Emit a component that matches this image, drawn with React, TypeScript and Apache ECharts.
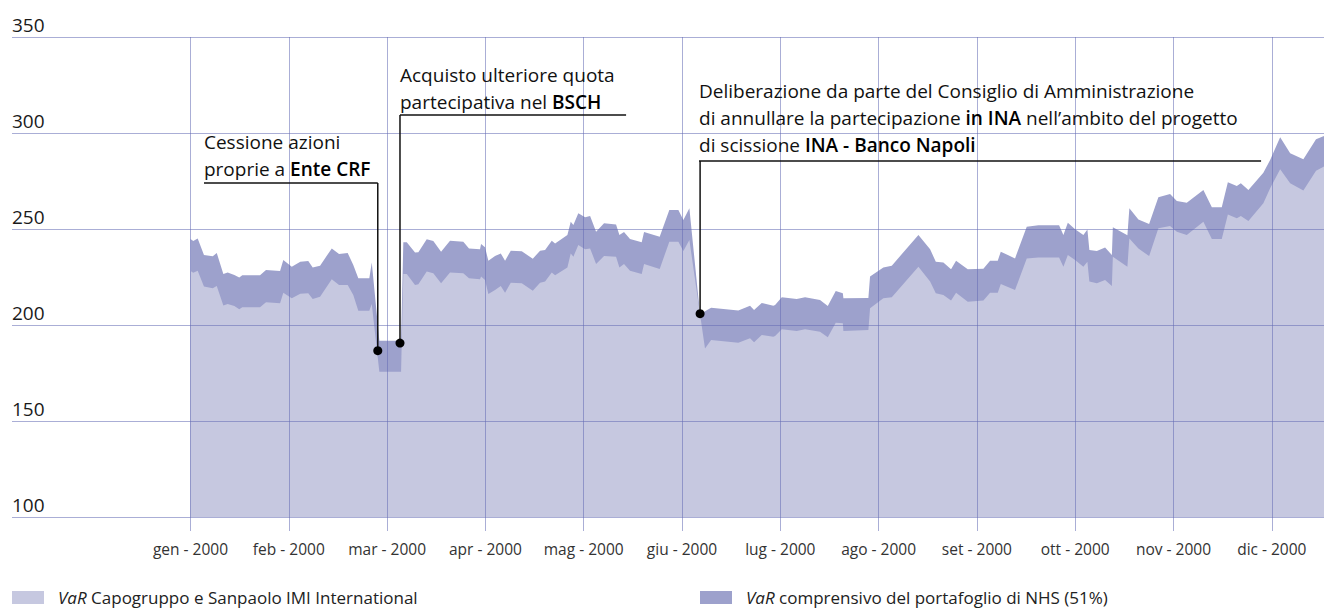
import React, { useEffect, useRef } from 'react';
import * as echarts from 'echarts';

// ---- data -------------------------------------------------------------
const MONTHS = ['gen', 'feb', 'mar', 'apr', 'mag', 'giu', 'lug', 'ago', 'set', 'ott', 'nov', 'dic'];
const YEAR = '2000';
const MONTH_IDX = MONTHS.map((_, i) => i);
const Y_MIN = 100;
const Y_MAX = 350;
const Y_STEP = 50;

// time in months from 1 Jan 2000 (0 = gen, 1 = feb, ...)
const X = [
  0, 0.028, 0.073, 0.137, 0.226, 0.267, 0.334, 0.378, 0.446, 0.496, 0.527, 0.707, 0.768, 0.911, 0.944,
  1.03, 1.117, 1.198, 1.243, 1.318, 1.437, 1.511, 1.599, 1.656, 1.707, 1.819, 1.844, 1.921, 2.142, 2.165,
  2.2, 2.284, 2.318, 2.403, 2.47, 2.549, 2.64, 2.775, 2.833, 2.945, 2.956, 2.996, 3.03, 3.098, 3.156,
  3.2, 3.258, 3.37, 3.482, 3.556, 3.607, 3.675, 3.709, 3.834, 3.868, 3.895, 3.945, 4.014, 4.065, 4.126,
  4.207, 4.329, 4.363, 4.41, 4.471, 4.59, 4.614, 4.773, 4.871, 4.963, 5.014, 5.075, 5.183, 5.234, 5.296,
  5.573, 5.692, 5.733, 5.811, 5.929, 5.947, 6.015, 6.167, 6.252, 6.404, 6.483, 6.564, 6.636, 6.642, 6.896,
  6.913, 7.048, 7.134, 7.405, 7.524, 7.582, 7.659, 7.737, 7.788, 7.907, 8.066, 8.134, 8.212, 8.243, 8.388,
  8.507, 8.626, 8.836, 8.88, 8.925, 8.999, 9.083, 9.124, 9.144, 9.22, 9.304, 9.373, 9.383, 9.531, 9.551,
  9.643, 9.752, 9.846, 9.965, 10.034, 10.135, 10.304, 10.39, 10.491, 10.553, 10.644, 10.685, 10.762, 10.914, 10.983,
  11.085, 11.187, 11.321, 11.45, 11.531,
];

// VaR including the NHS portfolio (51%) – upper edge of the dark band
const VAR_NHS = [
  244.8, 243.7, 245.1, 236.5, 235.8, 237.5, 226.6, 227.4, 226.0, 224.8, 225.9, 225.9, 228.6, 228.1, 233.8,
  230.4, 233.0, 233.3, 230.0, 230.9, 239.9, 237.0, 237.5, 231.2, 224.3, 224.3, 232.6, 191.8, 191.8, 243.1,
  243.1, 237.7, 237.9, 244.6, 243.7, 238.2, 243.9, 243.4, 239.9, 239.4, 242.2, 240.5, 233.5, 235.9, 237.3,
  233.5, 238.7, 238.4, 234.5, 238.7, 239.1, 243.9, 242.5, 246.9, 253.8, 252.1, 258.2, 256.1, 256.8, 248.6,
  253.0, 252.4, 246.9, 248.4, 244.8, 243.1, 248.4, 246.0, 259.9, 259.9, 254.7, 260.8, 205.7, 207.2, 209.0,
  207.5, 210.0, 207.8, 211.5, 210.0, 210.4, 214.4, 213.5, 214.4, 213.0, 209.9, 217.7, 216.5, 213.9, 214.1,
  225.2, 230.0, 230.9, 246.9, 239.4, 233.0, 232.6, 229.0, 233.5, 229.0, 229.3, 233.5, 233.5, 238.2, 234.7,
  251.2, 251.9, 251.9, 246.9, 253.3, 249.9, 246.9, 249.8, 239.1, 238.5, 240.3, 236.5, 250.9, 246.7, 260.8,
  255.0, 252.6, 266.5, 268.2, 264.6, 263.7, 270.3, 261.3, 261.3, 274.3, 272.4, 273.8, 270.3, 279.3, 285.9,
  297.8, 289.4, 286.3, 296.7, 298.4,
];

// VaR Capogruppo e Sanpaolo IMI International – light area
const VAR_CAPO = [
  228.1, 227.2, 228.3, 220.0, 219.1, 220.3, 210.1, 211.0, 209.9, 208.2, 209.2, 209.2, 211.8, 211.3, 216.8,
  213.9, 216.3, 216.5, 213.5, 214.7, 223.8, 220.8, 220.8, 215.6, 207.4, 207.4, 211.0, 175.7, 175.7, 226.6,
  226.6, 220.8, 221.2, 227.8, 226.9, 221.7, 227.4, 226.9, 224.3, 223.8, 225.2, 223.4, 216.1, 218.2, 220.3,
  216.8, 222.0, 221.7, 217.9, 222.0, 222.6, 227.4, 225.9, 230.0, 237.3, 235.6, 241.7, 239.4, 239.9, 231.8,
  235.9, 235.6, 230.0, 231.8, 228.3, 226.6, 231.8, 229.2, 243.4, 243.4, 238.5, 244.3, 205.7, 187.8, 192.2,
  190.8, 193.1, 191.0, 194.8, 193.9, 194.3, 197.8, 196.9, 197.8, 196.5, 193.6, 201.2, 200.9, 196.9, 197.4,
  208.7, 213.9, 214.4, 230.4, 222.6, 216.5, 215.6, 212.7, 216.8, 212.1, 212.7, 216.8, 216.8, 221.4, 218.2,
  234.7, 235.2, 235.2, 230.4, 236.5, 233.9, 230.4, 233.0, 222.6, 221.7, 223.4, 220.3, 235.6, 230.4, 245.1,
  239.9, 235.9, 250.4, 251.6, 248.6, 246.9, 253.8, 244.8, 244.8, 257.6, 255.6, 256.8, 254.2, 263.4, 271.2,
  281.1, 273.8, 270.0, 280.4, 282.5,
];

const SERIES_CAPO = 'VaR Capogruppo e Sanpaolo IMI International';
const SERIES_NHS = 'VaR comprensivo del portafoglio di NHS (51%)';

// annotations (anchors in data units: [month, value])
const ANNOTATIONS = [
  {
    text: '{n|Cessione azioni}\n{n|proprie a }{b|Ente CRF}',
    textAt: [0.137, 295.3],
    barY: 274.0,
    barX: [0.137, 1.905],
    dot: [1.905, 186.6],
  },
  {
    text: '{n|Acquisto ulteriore quota}\n{n|partecipativa nel }{b|BSCH}',
    textAt: [2.131, 330.2],
    barY: 309.4,
    barX: [2.131, 4.431],
    dot: [2.131, 190.6],
  },
  {
    text:
      '{n|Deliberazione da parte del Consiglio di Amministrazione}\n' +
      '{n|di annullare la partecipazione }{b|in INA}{n| nell\u2019ambito del progetto}\n' +
      '{n|di scissione }{b|INA - Banco Napoli}',
    textAt: [5.173, 321.9],
    barY: 285.4,
    barX: [5.173, 10.891],
    dot: [5.184, 205.9],
  },
];

// ---- style ------------------------------------------------------------
const X_MIN = -1.816;
const X_MAX = X[X.length - 1];
const FONT = '"Open Sans", "Noto Sans", sans-serif';
const C_LIGHT = '#c6c8e0';
const C_DARK = '#9da1cc';
const GRID = 'rgba(100,107,180,0.55)';
const ANN_FS = 19;
const ANN_LH = 27;

export default function App() {
  const ref = useRef<HTMLDivElement>(null);

  useEffect(() => {
    if (!ref.current) return;
    const chart = echarts.init(ref.current, undefined, { renderer: 'svg' });

    const legendText = {
      fontFamily: FONT,
      fontSize: 17,
      color: '#222',
      padding: [0, 0, 0, 9],
      rich: {
        i: { fontFamily: FONT, fontSize: 17, fontStyle: 'italic', color: '#222' },
        n: { fontFamily: FONT, fontSize: 17, color: '#222' },
      },
    };
    const legendFmt = (name: string) => name.replace(/^VaR(.*)$/, '{i|VaR}{n|$1}');

    chart.setOption({
      animation: false,
      grid: { left: 12, right: 0, top: 37, bottom: 91, containLabel: false },
      xAxis: {
        type: 'value',
        min: X_MIN,
        max: X_MAX,
        z: 5,
        axisLine: { show: false },
        axisTick: {
          show: true,
          customValues: MONTH_IDX,
          length: 14,
          lineStyle: { color: GRID, width: 1 },
        },
        axisLabel: {
          customValues: MONTH_IDX,
          formatter: (v: number) => `${MONTHS[Math.round(v)]} - ${YEAR}`,
          margin: 24,
          fontSize: 15.5,
          fontFamily: FONT,
          color: '#333',
        },
        splitLine: { show: true, lineStyle: { color: GRID, width: 1 } },
      },
      yAxis: {
        type: 'value',
        min: Y_MIN,
        max: Y_MAX,
        interval: Y_STEP,
        z: 5,
        axisLine: { show: false },
        axisTick: { show: false },
        axisLabel: {
          inside: true,
          margin: 0,
          fontSize: 19,
          fontFamily: FONT,
          color: '#1a1a1a',
          align: 'left',
          verticalAlign: 'bottom',
          padding: [0, 0, 3, 0],
        },
        splitLine: { show: true, lineStyle: { color: GRID, width: 1 } },
      },
      legend: [
        {
          data: [SERIES_CAPO],
          left: 12,
          top: 589,
          padding: 0,
          icon: 'rect',
          itemWidth: 32,
          itemHeight: 13,
          selectedMode: false,
          formatter: legendFmt,
          textStyle: legendText,
        },
        {
          data: [SERIES_NHS],
          left: 700,
          top: 589,
          padding: 0,
          icon: 'rect',
          itemWidth: 32,
          itemHeight: 13,
          selectedMode: false,
          formatter: legendFmt,
          textStyle: legendText,
        },
      ],
      series: [
        {
          name: SERIES_NHS,
          type: 'line',
          data: X.map((x, i) => [x, VAR_NHS[i]]),
          symbol: 'none',
          lineStyle: { width: 0 },
          itemStyle: { color: C_DARK },
          areaStyle: { color: C_DARK, opacity: 1 },
          z: 1,
        },
        {
          name: SERIES_CAPO,
          type: 'line',
          data: X.map((x, i) => [x, VAR_CAPO[i]]),
          symbol: 'none',
          lineStyle: { width: 0 },
          itemStyle: { color: C_LIGHT },
          areaStyle: { color: C_LIGHT, opacity: 1 },
          z: 1,
        },
      ],
    });

    const toPx = (p: number[]) => chart.convertToPixel({ xAxisIndex: 0, yAxisIndex: 0 }, p) as number[];
    const graphics: any[] = [];
    const rich = {
      n: { fontFamily: FONT, fontSize: ANN_FS, lineHeight: ANN_LH, fill: '#111' },
      b: { fontFamily: FONT, fontSize: ANN_FS, lineHeight: ANN_LH, fill: '#000', fontWeight: 600 },
    };
    ANNOTATIONS.forEach((a) => {
      const t = toPx(a.textAt);
      const b1 = toPx([a.barX[0], a.barY]);
      const b2 = toPx([a.barX[1], a.barY]);
      const d = toPx(a.dot);
      const dropTop = toPx([a.dot[0], a.barY]);
      graphics.push({
        type: 'text',
        z: 20,
        x: t[0],
        y: t[1] - ANN_LH / 2,
        style: { text: a.text, rich, align: 'left', verticalAlign: 'top', fill: '#111' },
      });
      graphics.push({
        type: 'line',
        z: 20,
        shape: { x1: b1[0], y1: b1[1], x2: b2[0], y2: b2[1] },
        style: { stroke: '#111', lineWidth: 1.5 },
      });
      graphics.push({
        type: 'line',
        z: 20,
        shape: { x1: dropTop[0], y1: dropTop[1], x2: d[0], y2: d[1] },
        style: { stroke: '#111', lineWidth: 1.5 },
      });
      graphics.push({
        type: 'circle',
        z: 21,
        shape: { cx: d[0], cy: d[1], r: 4.5 },
        style: { fill: '#000' },
      });
    });
    chart.setOption({ graphic: graphics });

    return () => chart.dispose();
  }, []);

  return (
    <div
      ref={ref}
      style={{ position: 'fixed', left: 0, top: 0, width: 1324, height: 608, background: '#fff' }}
    />
  );
}
